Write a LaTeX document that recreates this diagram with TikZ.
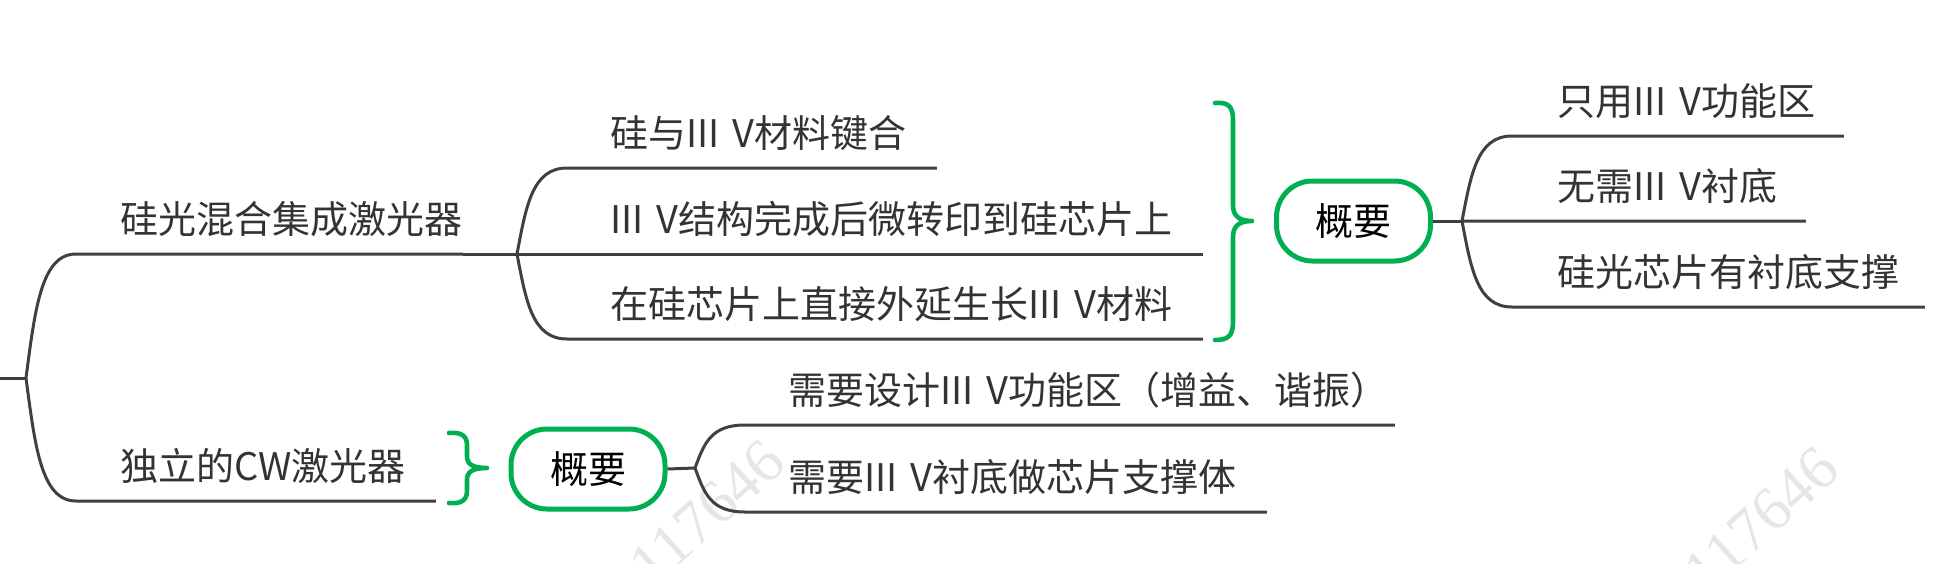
\documentclass[tikz,border=0pt]{standalone}
\usepackage{fontspec}
\setmainfont{Noto Sans CJK SC}
\newfontfamily\wmfont{Liberation Serif}
\usetikzlibrary{calc}
\definecolor{linegrey}{HTML}{404040}
\definecolor{txtgrey}{HTML}{333333}
\definecolor{sumgreen}{HTML}{00B050}
\definecolor{wmgrey}{HTML}{E6E6E6}
\tikzset{
  conn/.style={draw=linegrey, line width=1.5pt},
  topic/.style={anchor=south west, inner xsep=0pt, inner ysep=0pt, text depth=10pt, align=left, text=txtgrey, font=\fontsize{19pt}{23pt}\selectfont},
  sumbox/.style={draw=sumgreen, line width=2.5pt, rounded corners=18pt, minimum width=77pt, minimum height=40pt, inner sep=0pt, text=black, font=\fontsize{19pt}{23pt}\selectfont},
  bracestyle/.style={draw=sumgreen, line width=2.3pt, line cap=round, line join=round},
  wm/.style={text=wmgrey, font=\wmfont\fontsize{31pt}{34pt}\selectfont, inner sep=0pt}
}
\newcommand\linkto[2]{\draw[conn] (#1) .. controls ($(#1)!0.55!(#1 |- #2.south)+(9,0)$) and ($(#1 |- #2.south)+(15,0)$) .. ($(#1 |- #2.south)+(50,0)$) -- (#2.south east);}
\begin{document}
\begin{tikzpicture}[x=0.5pt,y=-0.5pt]
\useasboundingbox (0,0) rectangle (1940,563);
\clip (0,0) rectangle (1940,563);
% watermarks
\node[wm, rotate=42] (wmA) at (707,513) {117646};
\node[wm, rotate=42] (wmB) at (1761,520) {117646};
% forks
\coordinate (root) at (0,378);
\coordinate (f1) at (26,378);
\coordinate (f2) at (517,254);
\coordinate (f3) at (1462,221);
\coordinate (f4) at (695,468);
% topics
\node[topic] (b1) at (120,254) {硅光混合集成激光器};
\node[topic, text width=157.5pt] (b2) at (120,501) {\mbox{独立的CW激光器}};
\node[topic, text width=163pt] (s1) at (610,168) {\mbox{硅与III V材料键合}};
\node[topic, text width=296pt] (s2) at (610,254) {\mbox{III V结构完成后微转印到硅芯片上}};
\node[topic, text width=296pt] (s3) at (610,339) {\mbox{在硅芯片上直接外延生长III V材料}};
\node[sumbox] (sum1) at (1353.5,221) {概要};
\node[topic, text width=143pt] (t1) at (1557,136) {\mbox{只用III V功能区}};
\node[topic, text width=124pt] (t2) at (1557,221) {\mbox{无需III V衬底}};
\node[topic, text width=183.5pt] (t3) at (1557,307) {\mbox{硅光芯片有衬底支撑}};
\node[sumbox] (sum2) at (588,469) {概要};
\node[topic, text width=303pt] (u1) at (788,425) {\mbox{需要设计III V功能区（增益、谐振）}};
\node[topic, text width=239pt] (u2) at (788,512) {\mbox{需要III V衬底做芯片支撑体}};
% connectors
\draw[conn] (root) -- (f1);
\linkto{f1}{b1}
\draw[conn] (b1.south east) -- (f2);
\linkto{f1}{b2}
\linkto{f2}{s1}
\linkto{f2}{s2}
\linkto{f2}{s3}
\draw[conn] (sum1.east) -- (f3);
\linkto{f3}{t1}
\linkto{f3}{t2}
\linkto{f3}{t3}
\draw[conn] (sum2.east) -- (f4);
\linkto{f4}{u1}
\linkto{f4}{u2}
% braces
\draw[bracestyle] (1215,103) .. controls (1228,102) and (1233,106) .. (1233,120) -- (1233,205) .. controls (1233,215) and (1238,221) .. (1252,221) .. controls (1238,221) and (1233,227) .. (1233,237) -- (1233,322) .. controls (1233,336) and (1228,340) .. (1215,340);
\draw[bracestyle] (449,433) .. controls (460,432) and (467,435) .. (467,445) -- (467,456) .. controls (467,464) and (472,468) .. (487,468) .. controls (472,468) and (467,472) .. (467,480) -- (467,491) .. controls (467,501) and (460,504) .. (449,503);
\end{tikzpicture}
\end{document}
